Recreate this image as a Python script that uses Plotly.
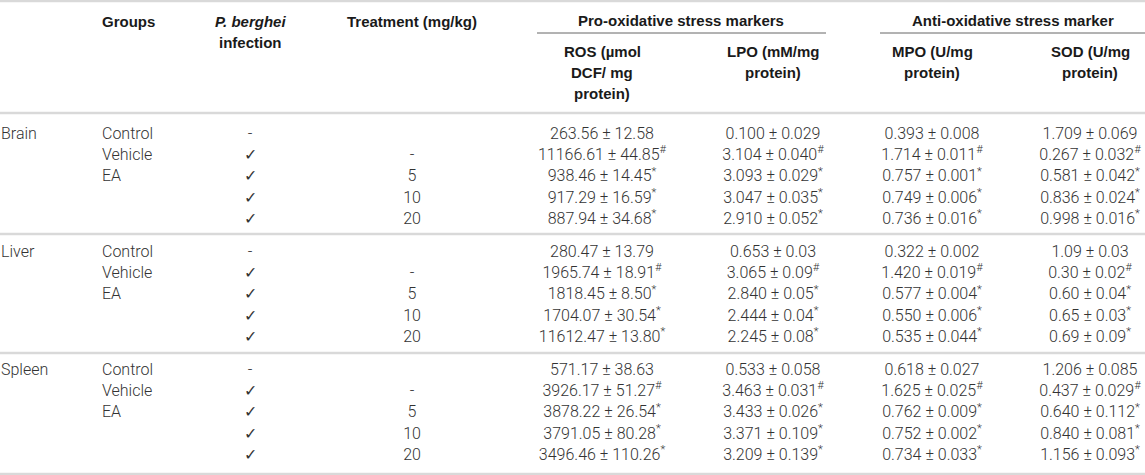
import plotly.graph_objects as go

# table contents
organs = ["Brain", "Liver", "Spleen"]
groups = ["Control", "Vehicle", "EA", "", ""]
infection = ["-", "✓", "✓", "✓", "✓"]
treatment = ["", "-", "5", "10", "20"]
marks = ["", "#", "*", "*", "*"]

ros = [["263.56 ± 12.58", "11166.61 ± 44.85", "938.46 ± 14.45", "917.29 ± 16.59", "887.94 ± 34.68"],
       ["280.47 ± 13.79", "1965.74 ± 18.91", "1818.45 ± 8.50", "1704.07 ± 30.54", "11612.47 ± 13.80"],
       ["571.17 ± 38.63", "3926.17 ± 51.27", "3878.22 ± 26.54", "3791.05 ± 80.28", "3496.46 ± 110.26"]]
lpo = [["0.100 ± 0.029", "3.104 ± 0.040", "3.093 ± 0.029", "3.047 ± 0.035", "2.910 ± 0.052"],
       ["0.653 ± 0.03", "3.065 ± 0.09", "2.840 ± 0.05", "2.444 ± 0.04", "2.245 ± 0.08"],
       ["0.533 ± 0.058", "3.463 ± 0.031", "3.433 ± 0.026", "3.371 ± 0.109", "3.209 ± 0.139"]]
mpo = [["0.393 ± 0.008", "1.714 ± 0.011", "0.757 ± 0.001", "0.749 ± 0.006", "0.736 ± 0.016"],
       ["0.322 ± 0.002", "1.420 ± 0.019", "0.577 ± 0.004", "0.550 ± 0.006", "0.535 ± 0.044"],
       ["0.618 ± 0.027", "1.625 ± 0.025", "0.762 ± 0.009", "0.752 ± 0.002", "0.734 ± 0.033"]]
sod = [["1.709 ± 0.069", "0.267 ± 0.032", "0.581 ± 0.042", "0.836 ± 0.024", "0.998 ± 0.016"],
       ["1.09 ± 0.03", "0.30 ± 0.02", "0.60 ± 0.04", "0.65 ± 0.03", "0.69 ± 0.09"],
       ["1.206 ± 0.085", "0.437 ± 0.029", "0.640 ± 0.112", "0.840 ± 0.081", "1.156 ± 0.093"]]

# layout (pixel positions)
W, H = 1145, 475
col_x = {"organ": 1, "group": 102, "inf": 250, "treat": 412,
         "ros": 602, "lpo": 773, "mpo": 932, "sod": 1090}
first_row = 135
block_step = 118
row_step = 21.2
rules = [1, 113, 234, 353, 474]

body_font = dict(family="Roboto, Liberation Sans, sans-serif", size=16, color="#333333", weight=300)
head_font = dict(family="Liberation Sans, Arial, sans-serif", size=15, color="#1a1a1a")

fig = go.Figure()


def add_col(xs, ys, texts, pos):
    fig.add_trace(go.Scatter(x=xs, y=ys, text=texts, mode="text", textposition=pos,
                             textfont=body_font, hoverinfo="skip", showlegend=False))


for b, organ in enumerate(organs):
    ys = [first_row + b * block_step + i * row_step for i in range(5)]
    add_col([col_x["organ"]], [ys[0]], [organ], "middle right")
    add_col([col_x["group"]] * 5, ys, groups, "middle right")
    add_col([col_x["inf"]] * 5, ys, infection, "middle center")
    add_col([col_x["treat"]] * 5, ys, treatment, "middle center")
    for key, vals in (("ros", ros), ("lpo", lpo), ("mpo", mpo), ("sod", sod)):
        txt = [v + ("<sup>%s</sup>" % m if m else "") for v, m in zip(vals[b], marks)]
        add_col([col_x[key]] * 5, ys, txt, "middle center")

# header
headers = [
    (col_x["group"] + 26, 21, "<b>Groups</b>"),
    (col_x["inf"], 21, "<b><i>P. berghei</i></b>"),
    (col_x["inf"], 42, "<b>infection</b>"),
    (col_x["treat"], 21, "<b>Treatment (mg/kg)</b>"),
    (681, 20, "<b>Pro-oxidative stress markers</b>"),
    (1013, 20, "<b>Anti-oxidative stress marker</b>"),
    (col_x["ros"], 51, "<b>ROS (µmol</b>"),
    (col_x["ros"], 72, "<b>DCF/ mg</b>"),
    (col_x["ros"], 93, "<b>protein)</b>"),
    (col_x["lpo"], 51, "<b>LPO (mM/mg</b>"),
    (col_x["lpo"], 72, "<b>protein)</b>"),
    (col_x["mpo"], 51, "<b>MPO (U/mg</b>"),
    (col_x["mpo"], 72, "<b>protein)</b>"),
    (col_x["sod"], 51, "<b>SOD (U/mg</b>"),
    (col_x["sod"], 72, "<b>protein)</b>"),
]
for x, y, t in headers:
    fig.add_annotation(x=x, y=y, text=t, showarrow=False, font=head_font,
                       xanchor="center", yanchor="middle")

# rules
for y in rules:
    fig.add_shape(type="line", x0=0, x1=W, y0=y, y1=y,
                  line=dict(color="#d9d9d9", width=2.5))
fig.add_shape(type="line", x0=537, x1=826, y0=33, y1=33, line=dict(color="#666666", width=1))
fig.add_shape(type="line", x0=880, x1=W, y0=33, y1=33, line=dict(color="#666666", width=1))

fig.update_xaxes(range=[0, W], visible=False, fixedrange=True)
fig.update_yaxes(range=[H, 0], visible=False, fixedrange=True)
fig.update_layout(width=W, height=H, margin=dict(l=0, r=0, t=0, b=0),
                  plot_bgcolor="white", paper_bgcolor="white")

# page has a default 8px body margin; drop it so the table sits at the window edge
fig.write_html("out.html", config={"displayModeBar": False},
               post_script="document.body.style.margin='0';")
